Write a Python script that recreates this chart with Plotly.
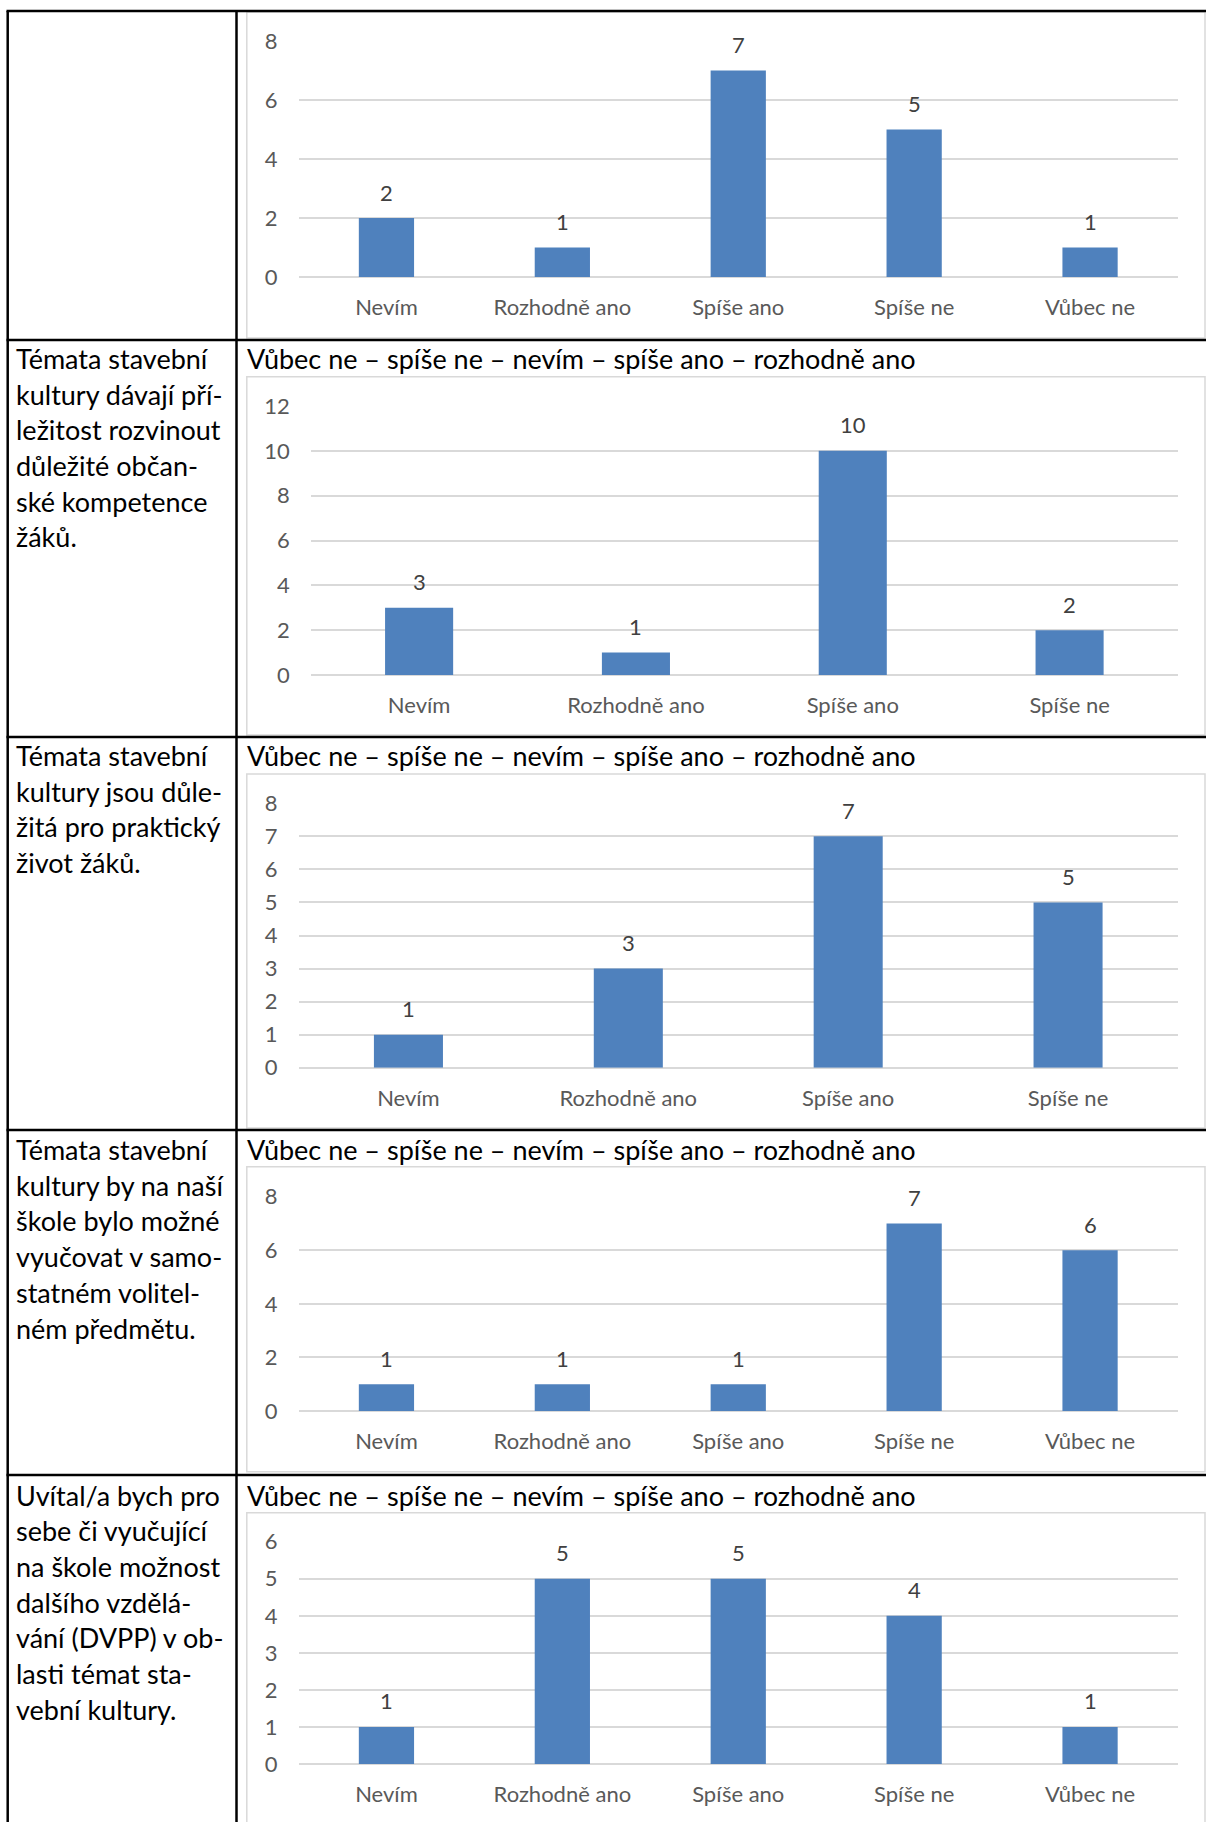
import plotly.graph_objects as go

# Data from the survey (count of answers)
kategorie_5 = ["Nevím", "Rozhodně ano", "Spíše ano", "Spíše ne", "Vůbec ne"]
kategorie_4 = ["Nevím", "Rozhodně ano", "Spíše ano", "Spíše ne"]

hodnoty_1 = [2, 1, 7, 5, 1]
hodnoty_2 = [3, 1, 10, 2]
hodnoty_3 = [1, 3, 7, 5]
hodnoty_4 = [1, 1, 1, 7, 6]
hodnoty_5 = [1, 5, 5, 4, 1]

osa_max = [8, 12, 8, 8, 6]
osa_krok = [2, 2, 1, 2, 1]

hlavicka = "Vůbec ne – spíše ne – nevím – spíše ano – rozhodně ano"

otazka_2 = ["Témata stavební", "kultury dávají pří-", "ležitost rozvinout",
            "důležité občan-", "ské kompetence", "žáků."]
otazka_3 = ["Témata stavební", "kultury jsou důle-", "žitá pro praktický",
            "život žáků."]
otazka_4 = ["Témata stavební", "kultury by na naší", "škole bylo možné",
            "vyučovat v samo-", "statném volitel-", "ném předmětu."]
otazka_5 = ["Uvítal/a bych pro", "sebe či vyučující", "na škole možnost",
            "dalšího vzdělá-", "vání (DVPP) v ob-", "lasti témat sta-",
            "vební kultury."]

grafy = [
    (kategorie_5, hodnoty_1, None),
    (kategorie_4, hodnoty_2, otazka_2),
    (kategorie_4, hodnoty_3, otazka_3),
    (kategorie_5, hodnoty_4, otazka_4),
    (kategorie_5, hodnoty_5, otazka_5),
]

# Page geometry in pixels
W, H = 1206, 1822
# plot area: x0, x1, y of top gridline, y of zero line
plochy = [
    (298.5, 1178, 41, 277),
    (310.7, 1178, 406, 675),
    (298.5, 1178, 803.3, 1067.7),
    (298.5, 1178, 1196.7, 1411),
    (298.5, 1178, 1541.7, 1764),
]
ramecky = [(12, 338), (376.7, 735), (774, 1128), (1166.7, 1471.7), (1512.7, 1840)]
radky = [11, 340, 737, 1130, 1475]
hlavicka_y = [None, 358.5, 755.5, 1149.5, 1495]
RADEK = 35.7

FONT = "Lato"
MODRA = "#4F81BD"
MRIZKA = "#D9D9D9"


def px(x):
    return x / W


def py(y):
    return 1 - y / H


fig = go.Figure()
anotace = []
tvary = []

for i, (kat, hod, otazka) in enumerate(grafy):
    n = "" if i == 0 else str(i + 1)
    fig.add_trace(go.Bar(x=kat, y=hod, marker=dict(color=MODRA, line=dict(width=0)),
                         xaxis="x" + n, yaxis="y" + n, showlegend=False, hoverinfo="x+y"))
    x0, x1, ytop, y0 = plochy[i]
    fig.update_layout({
        "xaxis" + n: dict(domain=[px(x0), px(x1)], anchor="y" + n, showgrid=False,
                          showline=False, zeroline=False, ticks="", automargin=False,
                          tickfont=dict(family=FONT, size=22, color="#595959"),
                          ticklabelstandoff=15, fixedrange=True),
        "yaxis" + n: dict(domain=[py(y0), py(ytop)], anchor="x" + n, range=[0, osa_max[i]],
                          dtick=osa_krok[i], tick0=0, showgrid=True, gridcolor=MRIZKA,
                          gridwidth=1.5, zeroline=True, zerolinecolor=MRIZKA, zerolinewidth=1.5,
                          showline=False, ticks="", automargin=False,
                          tickfont=dict(family=FONT, size=22, color="#595959"),
                          ticklabelstandoff=20, fixedrange=True),
    })
    # data labels above bars
    for k, v in zip(kat, hod):
        anotace.append(dict(x=k, y=v, xref="x" + n, yref="y" + n, text=str(v),
                            showarrow=False, yanchor="middle", yshift=26,
                            font=dict(family=FONT, size=22, color="#404040")))
    # chart frame
    fy0, fy1 = ramecky[i]
    tvary.append(dict(type="rect", xref="paper", yref="paper", x0=px(246.8), x1=px(1205),
                      y0=py(fy1), y1=py(fy0), line=dict(color=MRIZKA, width=1.5)))
    if otazka:
        anotace.append(dict(x=px(245), y=py(hlavicka_y[i]), xref="paper", yref="paper",
                            text=hlavicka, showarrow=False, xanchor="left", yanchor="middle",
                            font=dict(family=FONT, size=27, color="black")))
        for j, radek in enumerate(otazka):
            anotace.append(dict(x=px(14), y=py(hlavicka_y[i] + j * RADEK), xref="paper",
                                yref="paper", text=radek, showarrow=False, xanchor="left",
                                yanchor="middle", font=dict(family=FONT, size=27, color="black")))

# table lines
for y in radky:
    tvary.append(dict(type="line", xref="paper", yref="paper", x0=px(6.5), x1=1,
                      y0=py(y), y1=py(y), line=dict(color="black", width=2.5)))
for x in [7.7, 236.5]:
    tvary.append(dict(type="line", xref="paper", yref="paper", x0=px(x), x1=px(x),
                      y0=0, y1=py(radky[0]), line=dict(color="black", width=2.5)))

fig.update_layout(
    width=W, height=H,
    margin=dict(l=0, r=0, t=0, b=0, autoexpand=False),
    paper_bgcolor="white", plot_bgcolor="white",
    bargap=0.686,
    annotations=anotace,
    shapes=tvary,
    font=dict(family=FONT),
)

# page without body margin, figure pinned to the top-left corner
js = ("document.body.style.margin='0';"
      "var d=document.getElementsByClassName('plotly-graph-div')[0];"
      "d.style.position='absolute';d.style.left='0px';d.style.top='0px';")
fig.write_html("out.html", post_script=js, config={"displayModeBar": False})
